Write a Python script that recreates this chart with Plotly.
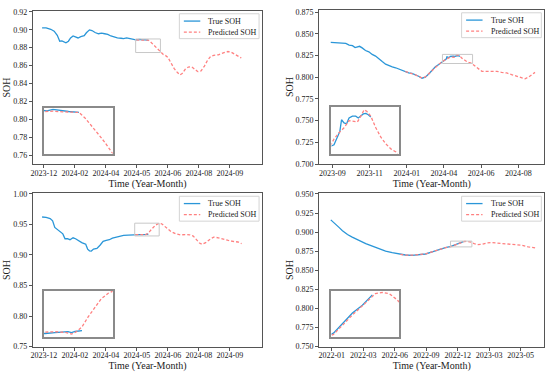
import plotly.graph_objects as go

# ---------------- data (x in tick-interval units) ----------------
labels1 = ['2023-12', '2024-02', '2024-04', '2024-05', '2024-06', '2024-08', '2024-09']
t1_true = [-0.06, 0.07, 0.22, 0.33, 0.43, 0.51, 0.58, 0.65, 0.71, 0.79, 0.86, 0.94, 1.02, 1.10, 1.19, 1.30,
           1.37, 1.47, 1.55, 1.65, 1.76, 1.86, 1.96, 2.06, 2.16, 2.27, 2.37, 2.49, 2.57, 2.67, 2.78, 2.93,
           3.00, 3.07, 3.15, 3.25, 3.37]
soh1_true = [0.902, 0.902, 0.9005, 0.8984, 0.8937, 0.8872, 0.8876, 0.8861, 0.8854, 0.8872, 0.8908, 0.8930,
             0.8919, 0.8908, 0.8922, 0.8933, 0.8966, 0.8998, 0.8991, 0.8969, 0.8955, 0.8962, 0.8955, 0.8948,
             0.8930, 0.8915, 0.8908, 0.8905, 0.8901, 0.8908, 0.8897, 0.8890, 0.8888, 0.8893, 0.8889, 0.8886,
             0.8883]
t1_pred = [2.98, 3.07, 3.18, 3.28, 3.37, 3.44, 3.52, 3.60, 3.67, 3.75, 3.85, 3.92, 4.00, 4.10, 4.20, 4.31,
           4.39, 4.46, 4.56, 4.66, 4.77, 4.87, 4.97, 5.07, 5.18, 5.28, 5.38, 5.48, 5.63, 5.79, 5.94, 6.04,
           6.19, 6.37]
soh1_pred = [0.8886, 0.8887, 0.8885, 0.8884, 0.8883, 0.8865, 0.8839, 0.8810, 0.8785, 0.8753, 0.8725, 0.8714,
             0.8692, 0.8631, 0.8569, 0.8523, 0.8497, 0.8512, 0.8559, 0.8584, 0.8587, 0.8559, 0.8533, 0.8541,
             0.8595, 0.8659, 0.8703, 0.8714, 0.8721, 0.8742, 0.8757, 0.8750, 0.8721, 0.8685]
zoom1_x = [2.96, 3.76]
zoom1_y = [0.8746, 0.8897]

labels2 = ['2023-09', '2023-11', '2024-01', '2024-04', '2024-06', '2024-08']
t2_true = [-0.045, 0.09, 0.27, 0.36, 0.45, 0.54, 0.61, 0.67, 0.73, 0.80, 0.89, 0.98, 1.07, 1.16, 1.25, 1.34,
           1.43, 1.52, 1.61, 1.70, 1.79, 1.88, 1.96, 2.05, 2.14, 2.23, 2.32, 2.41, 2.50, 2.59, 2.68, 2.77,
           2.86, 2.95, 2.99, 3.04, 3.06, 3.08, 3.11, 3.14, 3.17, 3.21, 3.25, 3.28, 3.31, 3.34, 3.37, 3.40, 3.43]
soh2_true = [0.8401, 0.8398, 0.8394, 0.8390, 0.8371, 0.8364, 0.8341, 0.8349, 0.8356, 0.8338, 0.8308, 0.8293,
             0.8263, 0.8244, 0.8207, 0.8180, 0.8150, 0.8132, 0.8120, 0.8109, 0.8094, 0.8075, 0.8064, 0.8049,
             0.8045, 0.8030, 0.8011, 0.7989, 0.8000, 0.8038, 0.8083, 0.8120, 0.8146, 0.8176, 0.8179, 0.8199,
             0.8209, 0.8235, 0.8228, 0.8226, 0.8239, 0.8243, 0.8243, 0.8239, 0.8244, 0.8248, 0.8249, 0.8246,
             0.8241]
t2_pred = [1.96, 2.05, 2.14, 2.23, 2.32, 2.41, 2.50, 2.59, 2.68, 2.77, 2.86, 2.95, 2.99, 3.05, 3.11, 3.17,
           3.23, 3.27, 3.31, 3.35, 3.38, 3.43, 3.49, 3.55, 3.61, 3.67, 3.73, 3.80, 3.86, 3.93, 4.02, 4.15,
           4.29, 4.42, 4.55, 4.69, 4.82, 4.96, 5.09, 5.18, 5.27, 5.36, 5.45]
soh2_pred = [0.8066, 0.8052, 0.8047, 0.8028, 0.8008, 0.7992, 0.8003, 0.8040, 0.8080, 0.8118, 0.8148, 0.8178,
             0.8192, 0.8206, 0.8217, 0.8233, 0.8232, 0.8230, 0.8243, 0.8257, 0.8254, 0.8243, 0.8217, 0.8196,
             0.8181, 0.8170, 0.8163, 0.8140, 0.8120, 0.8094, 0.8068, 0.8068, 0.8071, 0.8068, 0.8056, 0.8049,
             0.8030, 0.8008, 0.7989, 0.7982, 0.8000, 0.8026, 0.8056]
zoom2_x = [2.96, 3.77]
zoom2_y = [0.8158, 0.8263]

labels3 = labels1
t3_true = [-0.06, 0.07, 0.20, 0.28, 0.35, 0.45, 0.53, 0.61, 0.68, 0.76, 0.84, 0.94, 1.02, 1.12, 1.22, 1.30,
           1.35, 1.38, 1.41, 1.47, 1.53, 1.60, 1.65, 1.71, 1.81, 1.91, 2.01, 2.11, 2.21, 2.32, 2.42, 2.57,
           2.72, 2.88, 2.95, 3.06, 3.16, 3.21, 3.25, 3.29, 3.37]
soh3_true = [0.9622, 0.9617, 0.9596, 0.9559, 0.9452, 0.9410, 0.9388, 0.9346, 0.9266, 0.9266, 0.9250, 0.9282,
             0.9266, 0.9229, 0.9202, 0.9186, 0.9176, 0.9133, 0.9096, 0.9069, 0.9064, 0.9096, 0.9096, 0.9106,
             0.9160, 0.9223, 0.9239, 0.9250, 0.9277, 0.9293, 0.9309, 0.9320, 0.9326, 0.9326, 0.9327, 0.9331,
             0.9335, 0.9335, 0.9331, 0.9336, 0.9340]
t3_pred = [2.95, 3.06, 3.18, 3.25, 3.31, 3.37, 3.44, 3.52, 3.59, 3.67, 3.72, 3.80, 3.90, 4.00, 4.10, 4.26,
           4.41, 4.56, 4.71, 4.82, 4.92, 5.02, 5.10, 5.22, 5.38, 5.48, 5.63, 5.79, 5.95, 6.10, 6.26, 6.38]
soh3_pred = [0.9333, 0.9335, 0.9332, 0.9324, 0.9336, 0.9357, 0.9402, 0.9446, 0.9484, 0.9509, 0.9518, 0.9511,
             0.9468, 0.9426, 0.9383, 0.9346, 0.9330, 0.9335, 0.9330, 0.9309, 0.9250, 0.9197, 0.9176, 0.9202,
             0.9266, 0.9293, 0.9282, 0.9255, 0.9239, 0.9223, 0.9213, 0.9186]
zoom3_x = [2.93, 3.72]
zoom3_y = [0.9312, 0.9521]

labels4 = ['2022-01', '2022-03', '2022-06', '2022-09', '2022-12', '2023-03', '2023-05']
t4_true = [-0.03, 0.07, 0.23, 0.34, 0.50, 0.65, 0.86, 1.08, 1.29, 1.50, 1.71, 1.92, 2.13, 2.34, 2.55, 2.76,
           2.98, 3.19, 3.40, 3.61, 3.79, 3.88, 3.98, 4.08, 4.18]
soh4_true = [0.9160, 0.9126, 0.9062, 0.9019, 0.8968, 0.8934, 0.8891, 0.8849, 0.8815, 0.8781, 0.8751, 0.8730,
             0.8713, 0.8700, 0.8696, 0.8700, 0.8713, 0.8740, 0.8770, 0.8798, 0.8812, 0.8828, 0.8845, 0.8858,
             0.8875]
t4_pred = [2.18, 2.34, 2.55, 2.76, 2.98, 3.19, 3.40, 3.61, 3.79, 3.88, 3.98, 4.08, 4.18, 4.21, 4.28, 4.35,
           4.42, 4.55, 4.63, 4.77, 4.93, 5.08, 5.24, 5.40, 5.61, 5.82, 6.03, 6.24, 6.46]
soh4_pred = [0.8709, 0.8698, 0.8697, 0.8701, 0.8714, 0.8742, 0.8772, 0.8796, 0.8810, 0.8825, 0.8842, 0.8857,
             0.8873, 0.8877, 0.8879, 0.8877, 0.8868, 0.8844, 0.8835, 0.8840, 0.8857, 0.8862, 0.8857, 0.8849,
             0.8845, 0.8840, 0.8828, 0.8806, 0.8794]
zoom4_x = [3.77, 4.45]
zoom4_y = [0.8806, 0.8882]

legend_names = ['True SOH', 'Predicted SOH']

# ---------------- styling ----------------
BLUE = '#2a96d8'
RED = '#ff8080'
FONT = 'Liberation Serif'
DASH = '3px,2px'

W, H = 550, 374


def fx(v):
    return v / W


def fy(v):
    return 1 - v / H


panels = [
    dict(t=t1_true, s=soh1_true, tp=t1_pred, sp=soh1_pred, zx=zoom1_x, zy=zoom1_y, labels=labels1,
         xr=[-0.357, 7.04], yr=[0.7505, 0.921], yt=[0.76 + 0.02 * i for i in range(9)], fmt='.2f',
         box=(31, 261, 7, 164), inset=(41.7, 111, 106.7, 154)),
    dict(t=t2_true, s=soh2_true, tp=t2_pred, sp=soh2_pred, zx=zoom2_x, zy=zoom2_y, labels=labels2,
         xr=[-0.357, 5.70], yr=[0.700, 0.8776], yt=[0.700 + 0.025 * i for i in range(8)], fmt='.3f',
         box=(318.3, 544.3, 6, 164), inset=(330.7, 398.7, 105.7, 154)),
    dict(t=t3_true, s=soh3_true, tp=t3_pred, sp=soh3_pred, zx=zoom3_x, zy=zoom3_y, labels=labels3,
         xr=[-0.357, 7.04], yr=[0.75, 1.001], yt=[0.75 + 0.05 * i for i in range(6)], fmt='.2f',
         box=(31, 261, 194, 351), inset=(41.7, 111, 293.7, 341)),
    dict(t=t4_true, s=soh4_true, tp=t4_pred, sp=soh4_pred, zx=zoom4_x, zy=zoom4_y, labels=labels4,
         xr=[-0.40, 6.75], yr=[0.75, 0.9508], yt=[0.75 + 0.025 * i for i in range(9)], fmt='.3f',
         box=(318.3, 544.3, 194, 351), inset=(330.7, 398.7, 293.7, 341)),
]

fig = go.Figure()
shapes = []
annotations = []
layout = dict(
    width=W, height=H, margin=dict(l=0, r=0, t=0, b=0),
    paper_bgcolor='white', plot_bgcolor='white', showlegend=False,
    font=dict(family=FONT, size=8, color='#222'),
)

for i, p in enumerate(panels):
    k = i + 1
    ki = i + 5
    xa, ya = ('x', 'y') if k == 1 else (f'x{k}', f'y{k}')
    xi, yi = f'x{ki}', f'y{ki}'

    fig.add_trace(go.Scatter(x=p['t'], y=p['s'], mode='lines', name=legend_names[0],
                             line=dict(color=BLUE, width=1.3), xaxis=xa, yaxis=ya))
    fig.add_trace(go.Scatter(x=p['tp'], y=p['sp'], mode='lines', name=legend_names[1],
                             line=dict(color=RED, width=1.3, dash=DASH), xaxis=xa, yaxis=ya))
    fig.add_trace(go.Scatter(x=p['t'], y=p['s'], mode='lines', name=legend_names[0],
                             line=dict(color=BLUE, width=1.3), xaxis=xi, yaxis=yi))
    fig.add_trace(go.Scatter(x=p['tp'], y=p['sp'], mode='lines', name=legend_names[1],
                             line=dict(color=RED, width=1.3, dash=DASH), xaxis=xi, yaxis=yi))

    L, R, T, B = p['box']
    iL, iR, iT, iB = p['inset']
    axname_x = 'xaxis' if k == 1 else f'xaxis{k}'
    axname_y = 'yaxis' if k == 1 else f'yaxis{k}'
    layout[axname_x] = dict(
        domain=[fx(L), fx(R)], anchor=ya, range=p['xr'],
        tickmode='array', tickvals=list(range(len(p['labels']))), ticktext=p['labels'],
        showline=True, mirror=True, linecolor='#555', linewidth=1,
        ticks='outside', ticklen=3, tickcolor='#555', showgrid=False, zeroline=False,
        tickfont=dict(family=FONT, size=8, color='#222'), ticklabelstandoff=-2,
        title=dict(text='Time (Year-Month)', font=dict(family=FONT, size=10, color='#222'), standoff=0),
    )
    layout[axname_y] = dict(
        domain=[fy(B), fy(T)], anchor=xa, range=p['yr'],
        tickmode='array', tickvals=p['yt'], ticktext=[format(v, p['fmt']) for v in p['yt']],
        showline=True, mirror=True, linecolor='#555', linewidth=1,
        ticks='outside', ticklen=3, tickcolor='#555', showgrid=False, zeroline=False,
        tickfont=dict(family=FONT, size=8, color='#222'),
        title=dict(text='SOH', font=dict(family=FONT, size=10, color='#222'), standoff=0),
    )
    layout[f'xaxis{ki}'] = dict(
        domain=[fx(iL), fx(iR)], anchor=yi, range=p['zx'], showticklabels=False, ticks='',
        showline=True, mirror=True, linecolor='#8a8a8a', linewidth=1.5, showgrid=False, zeroline=False,
    )
    layout[f'yaxis{ki}'] = dict(
        domain=[fy(iB), fy(iT)], anchor=xi, range=p['zy'], showticklabels=False, ticks='',
        showline=True, mirror=True, linecolor='#8a8a8a', linewidth=1.5, showgrid=False, zeroline=False,
    )
    # zoomed-region marker in the main axes
    shapes.append(dict(type='rect', xref=xa, yref=ya, x0=p['zx'][0], x1=p['zx'][1],
                       y0=p['zy'][0], y1=p['zy'][1], line=dict(color='#c8c8c8', width=1),
                       fillcolor='rgba(0,0,0,0)', layer='above'))
    # legend box (top-right of main axes)
    bx0, bx1, by0, by1 = R - 83, R - 3, T + 3, T + 28.5
    shapes.append(dict(type='rect', xref='paper', yref='paper', x0=fx(bx0), x1=fx(bx1),
                       y0=fy(by1), y1=fy(by0), line=dict(color='#d4d4d4', width=1),
                       fillcolor='white', layer='above'))
    for j, (name, col, dash) in enumerate([(legend_names[0], BLUE, 'solid'),
                                           (legend_names[1], RED, DASH)]):
        yrow = T + 10.5 + j * 11.3
        shapes.append(dict(type='line', xref='paper', yref='paper', x0=fx(R - 78.5), x1=fx(R - 62),
                           y0=fy(yrow), y1=fy(yrow), line=dict(color=col, width=1.3, dash=dash),
                           layer='above'))
        annotations.append(dict(text=name, xref='paper', yref='paper', x=fx(R - 56), y=fy(yrow),
                                xanchor='left', yanchor='middle', showarrow=False,
                                font=dict(family=FONT, size=8, color='#222')))

layout['shapes'] = shapes
layout['annotations'] = annotations
fig.update_layout(**layout)
fig.write_html('out.html', config={'displayModeBar': False},
               post_script="document.body.style.margin='0';")
